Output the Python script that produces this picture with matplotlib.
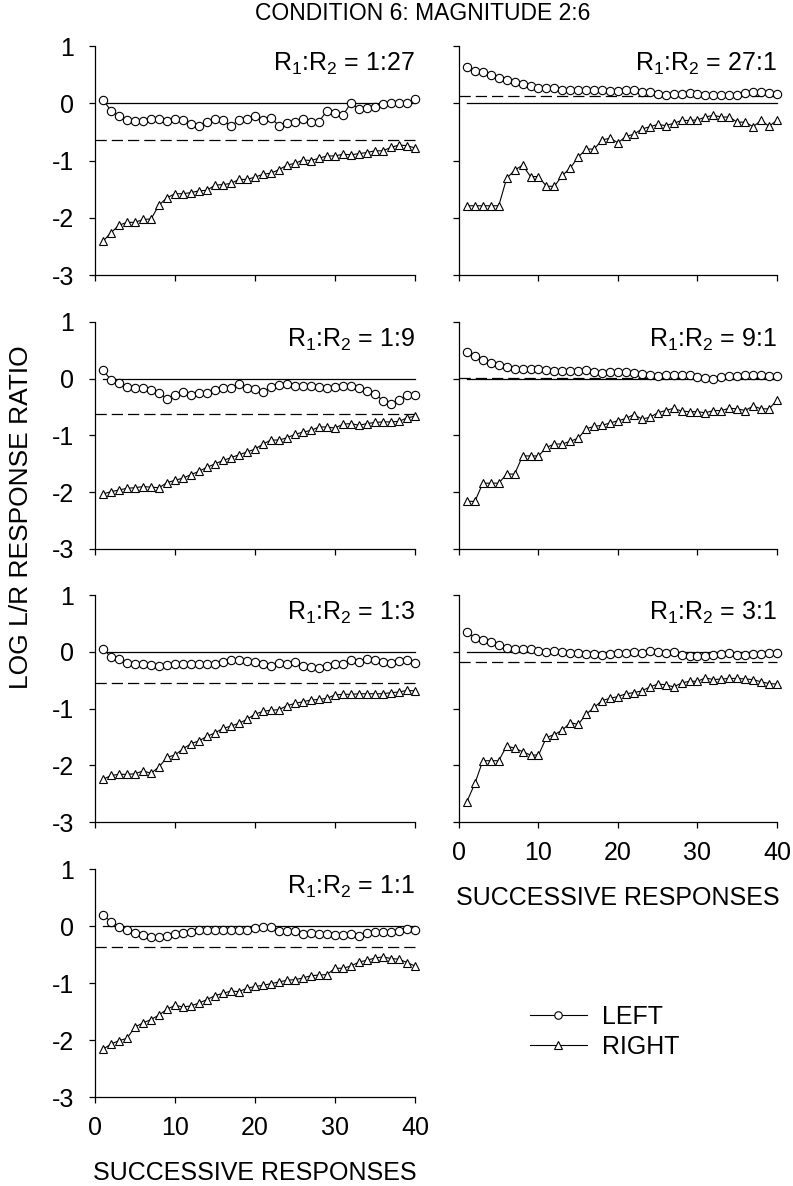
import numpy as np
import matplotlib
matplotlib.use('Agg')
import matplotlib.pyplot as plt
from matplotlib.lines import Line2D

plt.rcParams['font.family'] = ['Liberation Sans', 'DejaVu Sans']
plt.rcParams['mathtext.default'] = 'regular'

# successive responses 1..40
trial = np.arange(1, 41)

# panel labels (reinforcer ratio) and dashed reference lines
labels = ['1:27', '27:1', '1:9', '9:1', '1:3', '3:1', '1:1']
ref_level = [-0.64, 0.12, -0.62, 0.01, -0.55, -0.18, -0.37]

# LEFT (circles) and RIGHT (triangles) series per panel
left_1_27 = [0.06, -0.13, -0.22, -0.30, -0.31, -0.31, -0.28, -0.28, -0.31, -0.27,
             -0.30, -0.37, -0.40, -0.33, -0.28, -0.30, -0.40, -0.29, -0.28, -0.23,
             -0.30, -0.26, -0.39, -0.34, -0.33, -0.28, -0.33, -0.32, -0.13, -0.17,
             -0.21, 0.01, -0.10, -0.09, -0.06, -0.02, 0.00, 0.00, 0.00, 0.07]
right_1_27 = [-2.41, -2.26, -2.13, -2.08, -2.08, -2.03, -2.02, -1.78, -1.65, -1.58,
              -1.58, -1.56, -1.53, -1.52, -1.43, -1.42, -1.40, -1.33, -1.33, -1.29,
              -1.24, -1.22, -1.16, -1.08, -1.05, -0.99, -1.00, -0.96, -0.92, -0.92,
              -0.89, -0.90, -0.88, -0.86, -0.83, -0.83, -0.77, -0.73, -0.74, -0.78]

left_27_1 = [0.63, 0.57, 0.54, 0.50, 0.44, 0.40, 0.37, 0.34, 0.31, 0.26,
             0.27, 0.26, 0.23, 0.23, 0.23, 0.24, 0.24, 0.23, 0.22, 0.22,
             0.23, 0.23, 0.20, 0.19, 0.16, 0.15, 0.16, 0.17, 0.18, 0.17,
             0.14, 0.15, 0.15, 0.14, 0.14, 0.18, 0.19, 0.19, 0.18, 0.16]
right_27_1 = [-1.79, -1.79, -1.79, -1.79, -1.79, -1.31, -1.17, -1.08, -1.28, -1.28,
              -1.45, -1.45, -1.26, -1.13, -0.94, -0.80, -0.80, -0.64, -0.61, -0.69,
              -0.58, -0.54, -0.45, -0.41, -0.37, -0.39, -0.35, -0.30, -0.30, -0.29,
              -0.24, -0.21, -0.24, -0.24, -0.33, -0.33, -0.41, -0.30, -0.40, -0.30]

left_1_9 = [0.15, -0.02, -0.07, -0.15, -0.16, -0.17, -0.20, -0.25, -0.35, -0.29,
            -0.24, -0.29, -0.25, -0.25, -0.19, -0.16, -0.17, -0.09, -0.17, -0.18,
            -0.23, -0.15, -0.11, -0.09, -0.12, -0.12, -0.12, -0.15, -0.17, -0.15,
            -0.12, -0.12, -0.17, -0.21, -0.26, -0.39, -0.45, -0.38, -0.29, -0.29]
right_1_9 = [-2.03, -1.99, -1.96, -1.93, -1.92, -1.90, -1.91, -1.92, -1.83, -1.79,
             -1.75, -1.69, -1.63, -1.56, -1.50, -1.44, -1.39, -1.34, -1.29, -1.24,
             -1.15, -1.08, -1.08, -1.04, -0.98, -0.94, -0.91, -0.85, -0.85, -0.87,
             -0.80, -0.79, -0.82, -0.79, -0.77, -0.76, -0.76, -0.75, -0.69, -0.66]

left_9_1 = [0.47, 0.40, 0.33, 0.28, 0.24, 0.20, 0.18, 0.18, 0.18, 0.18,
            0.15, 0.13, 0.13, 0.13, 0.13, 0.15, 0.12, 0.11, 0.12, 0.12,
            0.12, 0.11, 0.08, 0.06, 0.05, 0.06, 0.06, 0.06, 0.06, 0.03,
            0.01, -0.01, 0.03, 0.04, 0.05, 0.06, 0.06, 0.06, 0.05, 0.05]
right_9_1 = [-2.16, -2.16, -1.84, -1.84, -1.84, -1.68, -1.68, -1.36, -1.36, -1.36,
             -1.21, -1.15, -1.15, -1.10, -1.05, -0.88, -0.84, -0.82, -0.78, -0.74,
             -0.70, -0.63, -0.71, -0.68, -0.60, -0.56, -0.52, -0.57, -0.58, -0.58,
             -0.60, -0.56, -0.56, -0.52, -0.53, -0.56, -0.48, -0.53, -0.53, -0.38]

left_1_3 = [0.05, -0.09, -0.13, -0.19, -0.21, -0.22, -0.24, -0.25, -0.24, -0.22,
            -0.22, -0.21, -0.21, -0.21, -0.21, -0.18, -0.15, -0.15, -0.16, -0.18,
            -0.21, -0.25, -0.19, -0.21, -0.18, -0.25, -0.26, -0.29, -0.25, -0.22,
            -0.22, -0.15, -0.18, -0.13, -0.15, -0.18, -0.19, -0.16, -0.15, -0.19]
right_1_3 = [-2.25, -2.18, -2.16, -2.16, -2.15, -2.10, -2.14, -2.03, -1.86, -1.82,
             -1.71, -1.62, -1.57, -1.49, -1.43, -1.35, -1.31, -1.26, -1.19, -1.10,
             -1.05, -1.03, -1.02, -0.95, -0.91, -0.88, -0.85, -0.84, -0.82, -0.76,
             -0.75, -0.75, -0.74, -0.74, -0.74, -0.74, -0.72, -0.71, -0.68, -0.69]

left_3_1 = [0.34, 0.25, 0.21, 0.18, 0.12, 0.06, 0.04, 0.04, 0.04, 0.01,
            -0.01, 0.01, 0.00, -0.02, -0.03, -0.04, -0.04, -0.05, -0.04, -0.03,
            -0.02, -0.01, -0.02, 0.02, 0.00, -0.02, -0.01, -0.06, -0.08, -0.08,
            -0.08, -0.06, -0.04, -0.02, -0.05, -0.05, -0.04, -0.04, -0.03, -0.02]
right_3_1 = [-2.64, -2.32, -1.92, -1.92, -1.92, -1.66, -1.70, -1.76, -1.82, -1.82,
             -1.51, -1.46, -1.38, -1.25, -1.28, -1.10, -0.98, -0.86, -0.82, -0.79,
             -0.74, -0.72, -0.69, -0.62, -0.57, -0.58, -0.62, -0.55, -0.52, -0.52,
             -0.46, -0.49, -0.48, -0.47, -0.47, -0.48, -0.49, -0.53, -0.56, -0.57]

left_1_1 = [0.19, 0.08, -0.01, -0.07, -0.12, -0.16, -0.19, -0.19, -0.18, -0.14,
            -0.12, -0.10, -0.07, -0.07, -0.06, -0.06, -0.06, -0.07, -0.06, -0.04,
            -0.02, -0.02, -0.09, -0.09, -0.09, -0.14, -0.13, -0.14, -0.14, -0.16,
            -0.15, -0.14, -0.17, -0.12, -0.11, -0.11, -0.10, -0.08, -0.05, -0.06]
right_1_1 = [-2.16, -2.07, -2.01, -1.97, -1.77, -1.70, -1.64, -1.56, -1.46, -1.39,
             -1.42, -1.40, -1.35, -1.29, -1.22, -1.18, -1.14, -1.15, -1.09, -1.06,
             -1.04, -1.01, -0.98, -0.95, -0.94, -0.91, -0.87, -0.86, -0.85, -0.74,
             -0.74, -0.70, -0.63, -0.60, -0.56, -0.54, -0.57, -0.58, -0.64, -0.70]

left_series = [left_1_27, left_27_1, left_1_9, left_9_1, left_1_3, left_3_1, left_1_1]
right_series = [right_1_27, right_27_1, right_1_9, right_9_1, right_1_3, right_3_1, right_1_1]

fs = 18
fig = plt.figure(figsize=(7.93, 11.86), dpi=100)

col_x = [0.1198, 0.5788]
col_w = [0.4035, 0.4010]
row_y = [0.7681, 0.5371, 0.3069, 0.0750]
row_h = [0.1931, 0.1914, 0.1914, 0.1922]

# panel order: row-major, left then right
positions = [(0, 0), (0, 1), (1, 0), (1, 1), (2, 0), (2, 1), (3, 0)]

for i, (r, c) in enumerate(positions):
    ax = fig.add_axes([col_x[c], row_y[r], col_w[c], row_h[r]])
    ax.plot([0, 40], [ref_level[i]] * 2, color='black', lw=0.9,
            linestyle=(0, (9, 4)))
    ax.plot([1, 40], [0, 0], color='black', lw=0.9)
    ax.plot(trial, left_series[i], color='black', lw=0.8, marker='o', ms=6,
            mfc='white', mec='black', mew=0.8)
    ax.plot(trial, right_series[i], color='black', lw=0.8, marker='^', ms=6,
            mfc='white', mec='black', mew=0.8)
    ax.set_xlim(0, 40)
    ax.set_ylim(-3, 1)
    ax.set_xticks([0, 10, 20, 30, 40])
    ax.set_yticks([-3, -2, -1, 0, 1])
    ax.set_yticklabels(['-3', '-2', '-1', '0', '1'])
    ax.spines['top'].set_visible(False)
    ax.spines['right'].set_visible(False)
    ax.spines['left'].set_linewidth(0.9)
    ax.spines['bottom'].set_linewidth(0.9)
    ax.tick_params(direction='out', length=4, width=0.9, labelsize=fs)
    ax.tick_params(axis='x', pad=9.5)
    ax.tick_params(axis='y', pad=11)
    for ln in ax.lines:
        ln.set_clip_on(False)
    ax.text(1.0, 0.98, 'R$_1$:R$_2$ = ' + labels[i], transform=ax.transAxes,
            ha='right', va='top', fontsize=fs)
    if c == 1:
        ax.tick_params(labelleft=False)
    if not ((r == 3 and c == 0) or (r == 2 and c == 1)):
        ax.tick_params(labelbottom=False)
    else:
        ax.set_xlabel('SUCCESSIVE RESPONSES', fontsize=fs, labelpad=15)

fig.text(0.533, 0.998, 'CONDITION 6: MAGNITUDE 2:6', ha='center', va='top', fontsize=16.5)
fig.text(0.026, 0.564, 'LOG L/R RESPONSE RATIO', rotation=90, ha='center', va='center',
         fontsize=19)

handles = [Line2D([], [], color='black', lw=0.8, marker='o', ms=6, mfc='white', mec='black', mew=0.8),
           Line2D([], [], color='black', lw=0.8, marker='^', ms=6, mfc='white', mec='black', mew=0.8)]
fig.legend(handles, ['LEFT', 'RIGHT'], loc='upper left', bbox_to_anchor=(0.668, 0.153),
           frameon=False, fontsize=fs, handlelength=2.3, handletextpad=0.6,
           labelspacing=0.25, borderpad=0, borderaxespad=0, markerscale=0.9)

fig.savefig('out.png', dpi=100)
